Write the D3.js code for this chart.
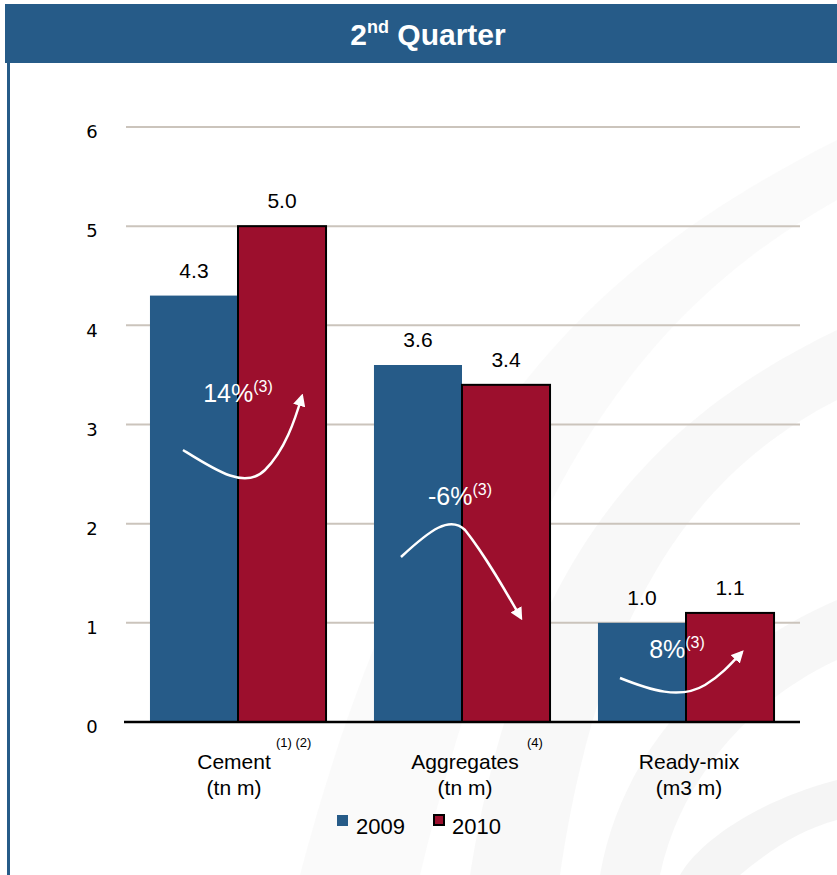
<!DOCTYPE html>
<html><head><meta charset="utf-8">
<script src="https://cdn.jsdelivr.net/npm/d3@7"></script>
<style>body{margin:0;background:#fff}svg{display:block;font-family:"Liberation Sans",Arial,sans-serif}</style>
</head><body><svg id="c" width="837" height="875"></svg>
<script>
const categories = ["Cement", "Aggregates", "Ready-mix"];
const units = ["(tn m)", "(tn m)", "(m3 m)"];
const footnotes = ["(1) (2)", "(4)", ""];
const years = ["2009", "2010"];
const values2009 = [4.3, 3.6, 1.0];
const values2010 = [5.0, 3.4, 1.1];
const changes = ["14%", "-6%", "8%"];
const yTicks = [0, 1, 2, 3, 4, 5, 6];

const colors = {"2009": "#265b88", "2010": "#9c0f2d"};
const svg = d3.select("#c");

// background swooshes
const bg = svg.append("g");
[["M 837 140 C 600 260 420 420 300 875 L 420 875 C 520 460 660 300 837 200 Z", 0.22],
 ["M 837 330 C 650 420 520 560 470 875 L 560 875 C 600 600 700 470 837 400 Z", 0.28],
 ["M 837 600 C 700 660 620 760 600 875 L 660 875 C 680 780 750 700 837 660 Z", 0.33],
 ["M 837 780 C 760 800 700 840 680 875 L 740 875 C 770 850 800 830 837 820 Z", 0.4]]
 .forEach(([d,o]) => bg.append("path").attr("d", d).attr("fill", "#e6e6e6").attr("opacity", o));

// frame
svg.append("rect").attr("x", 5).attr("y", 4).attr("width", 832).attr("height", 59).attr("fill", "#265b88");
svg.append("rect").attr("x", 7).attr("y", 60).attr("width", 3).attr("height", 815).attr("fill", "#265b88");
const title = svg.append("text").attr("x", 428).attr("y", 45).attr("text-anchor", "middle")
  .attr("fill", "#fff").attr("font-weight", "bold").attr("font-size", 30);
title.append("tspan").text("2");
title.append("tspan").text("nd").attr("font-size", 18).attr("dy", -12);
title.append("tspan").text(" Quarter").attr("dy", 12);

const y = d3.scaleLinear().domain([0, 6]).range([722, 127]);
const x0 = d3.scaleBand().domain(categories).range([126, 798]).paddingInner(0.214).paddingOuter(0.107);
const x1 = d3.scaleBand().domain(years).range([0, x0.bandwidth()]);

// grid
svg.append("g").selectAll("line").data(yTicks.filter(d => d > 0)).join("line")
  .attr("x1", 126).attr("x2", 800).attr("y1", d => y(d)).attr("y2", d => y(d))
  .attr("stroke", "#cbc4bc").attr("stroke-width", 2);

// y axis labels
const yAxis = svg.append("g").attr("transform", "translate(100,0)")
  .call(d3.axisLeft(y).tickValues(yTicks).tickSize(0).tickPadding(0).tickFormat(d3.format("d")));
yAxis.select(".domain").remove();
yAxis.selectAll("text").attr("font-size", 18).attr("fill", "#000").attr("text-anchor", "middle")
  .attr("x", -8).attr("dy", "0.6em").attr("font-family", "'DejaVu Sans',sans-serif");

const rows = categories.map((c, i) => ({c, i, v: [values2009[i], values2010[i]]}));
const groups = svg.append("g").selectAll("g").data(rows).join("g")
  .attr("transform", d => `translate(${x0(d.c)},0)`);

groups.append("rect").attr("x", x1("2009")).attr("width", x1.bandwidth())
  .attr("y", d => y(d.v[0])).attr("height", d => y(0) - y(d.v[0])).attr("fill", colors["2009"]);
groups.append("rect").attr("x", x1("2010")).attr("width", x1.bandwidth())
  .attr("y", d => y(d.v[1])).attr("height", d => y(0) - y(d.v[1])).attr("fill", colors["2010"])
  .attr("stroke", "#000").attr("stroke-width", 2);

groups.append("text").attr("x", x1("2009") + x1.bandwidth()/2).attr("y", d => y(d.v[0]) - 18)
  .attr("text-anchor", "middle").attr("font-size", 21).text(d => d.v[0].toFixed(1));
groups.append("text").attr("x", x1("2010") + x1.bandwidth()/2).attr("y", d => y(d.v[1]) - 18)
  .attr("text-anchor", "middle").attr("font-size", 21).text(d => d.v[1].toFixed(1));

// axis line
svg.append("line").attr("x1", 124).attr("x2", 800).attr("y1", y(0)).attr("y2", y(0))
  .attr("stroke", "#000").attr("stroke-width", 2.5);

// category labels
const bw = x0.bandwidth();
const lblOff = [-4, 3, 3];
groups.append("text").attr("x", d => bw/2 + lblOff[d.i]).attr("y", 769).attr("text-anchor", "middle")
  .attr("font-size", 21).text(d => d.c);
groups.append("text").attr("x", d => bw/2 + lblOff[d.i]).attr("y", 795).attr("text-anchor", "middle")
  .attr("font-size", 21).text(d => units[d.i]);
const fnX = [126, 153, 0];
groups.filter(d => footnotes[d.i]).append("text").attr("x", d => fnX[d.i]).attr("y", 747)
  .attr("font-size", 13).text(d => footnotes[d.i]);

// change annotations (arrows)
const defs = svg.append("defs");
defs.append("marker").attr("id", "ah").attr("viewBox", "0 0 10 10").attr("refX", 8).attr("refY", 5)
  .attr("markerWidth", 5).attr("markerHeight", 5).attr("orient", "auto")
  .append("path").attr("d", "M0,0 L10,5 L0,10 Z").attr("fill", "#fff");

const ann = [
  {tx: 238, ty: 402, path: "M 183 450 C 215 470 245 490 265 470 C 285 450 295 420 302 396"},
  {tx: 460, ty: 505, path: "M 401 557 C 430 530 450 515 465 530 C 485 555 505 590 521 618"},
  {tx: 677, ty: 658, path: "M 620 678 C 650 690 680 700 705 685 C 720 676 730 665 742 652"}
];
ann.forEach((a, i) => {
  svg.append("path").attr("d", a.path).attr("fill", "none").attr("stroke", "#fff")
    .attr("stroke-width", 2.5).attr("marker-end", "url(#ah)");
  const t = svg.append("text").attr("x", a.tx).attr("y", a.ty).attr("text-anchor", "middle").attr("fill", "#fff");
  t.append("tspan").attr("font-size", 25).text(changes[i]);
  t.append("tspan").attr("font-size", 16).attr("dy", -10).text("(3)");
});

// legend
const lg = svg.append("g");
lg.append("rect").attr("x", 337).attr("y", 815).attr("width", 11).attr("height", 11).attr("fill", colors["2009"]);
lg.append("text").attr("x", 356).attr("y", 834).attr("font-size", 22).text(years[0]);
lg.append("rect").attr("x", 434).attr("y", 815).attr("width", 10).attr("height", 10).attr("fill", colors["2010"])
  .attr("stroke", "#000").attr("stroke-width", 2);
lg.append("text").attr("x", 452).attr("y", 834).attr("font-size", 22).text(years[1]);
</script></body></html>
